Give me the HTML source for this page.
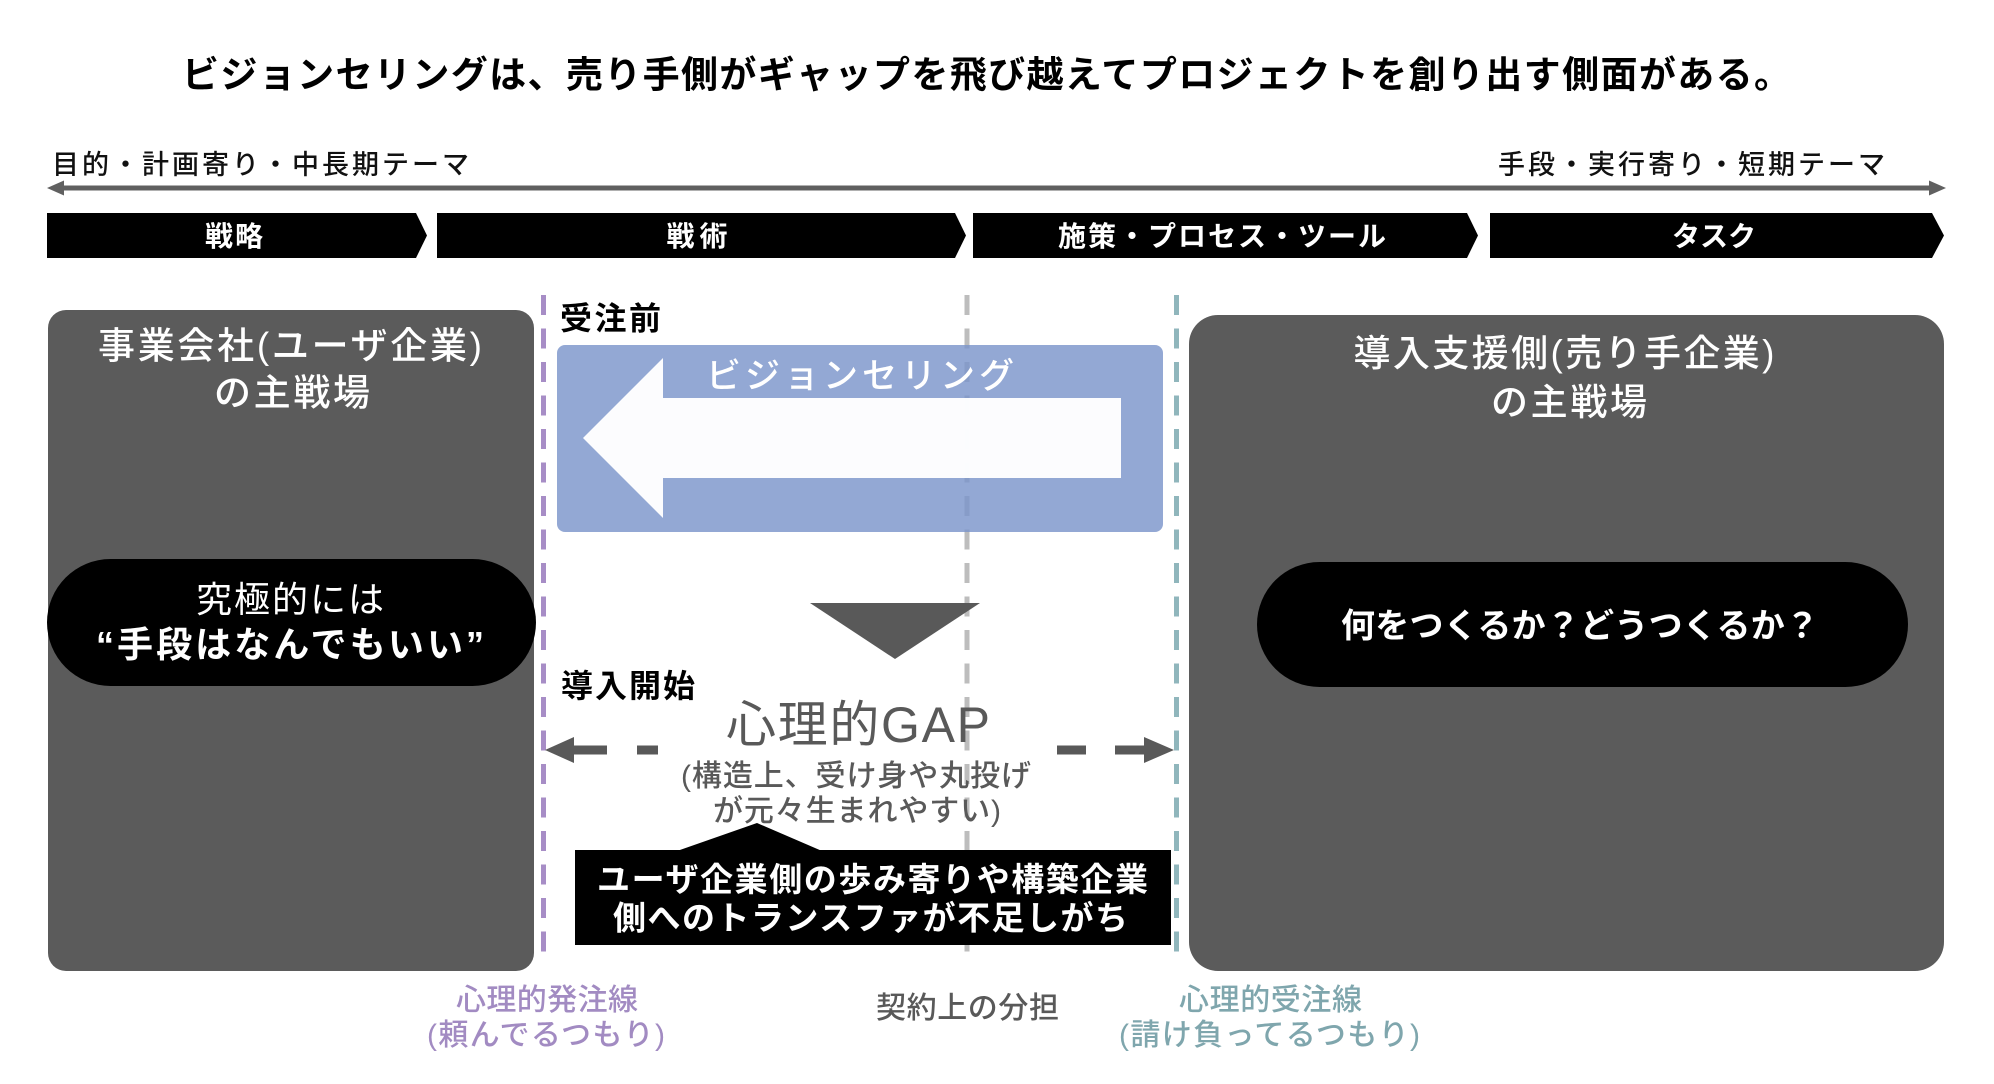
<!DOCTYPE html>
<html lang="ja">
<head>
<meta charset="utf-8">
<style>
  html,body{margin:0;padding:0;background:#fff;}
  svg{display:block;}
  text{font-family:"Liberation Sans","Noto Sans CJK JP",sans-serif;}
</style>
</head>
<body>
<svg width="1994" height="1084" viewBox="0 0 1994 1084" xmlns="http://www.w3.org/2000/svg">
  <rect x="0" y="0" width="1994" height="1084" fill="#ffffff"/>

  <!-- Title -->
  <text x="182" y="87.5" font-size="37" font-weight="700" fill="#000" textLength="1609" lengthAdjust="spacing">ビジョンセリングは、売り手側がギャップを飛び越えてプロジェクトを創り出す側面がある。</text>

  <!-- Axis labels -->
  <text x="52" y="174" font-size="27" font-weight="500" fill="#111" textLength="417" lengthAdjust="spacing">目的・計画寄り・中長期テーマ</text>
  <text x="1498" y="174" font-size="27" font-weight="500" fill="#111" textLength="387" lengthAdjust="spacing">手段・実行寄り・短期テーマ</text>

  <!-- Axis arrow -->
  <line x1="60" y1="188" x2="1933" y2="188" stroke="#606060" stroke-width="5"/>
  <polygon points="47,188 64,180.5 64,195.5" fill="#606060"/>
  <polygon points="1946,188 1929,180.5 1929,195.5" fill="#606060"/>

  <!-- Chevron bars -->
  <polygon points="47,213 416,213 427,235.5 416,258 47,258" fill="#000"/>
  <polygon points="437,213 955,213 966,235.5 955,258 437,258" fill="#000"/>
  <polygon points="973,213 1467,213 1478,235.5 1467,258 973,258" fill="#000"/>
  <polygon points="1490,213 1932,213 1944,235.5 1932,258 1490,258" fill="#000"/>
  <text x="234" y="246" font-size="28" font-weight="700" fill="#fff" text-anchor="middle" textLength="58" lengthAdjust="spacing">戦略</text>
  <text x="697" y="246" font-size="28" font-weight="700" fill="#fff" text-anchor="middle" textLength="61" lengthAdjust="spacing">戦術</text>
  <text x="1222" y="246" font-size="28" font-weight="700" fill="#fff" text-anchor="middle" textLength="328" lengthAdjust="spacing">施策・プロセス・ツール</text>
  <text x="1714" y="246" font-size="28" font-weight="700" fill="#fff" text-anchor="middle" textLength="84" lengthAdjust="spacing">タスク</text>

  <!-- Left dark box -->
  <rect x="48" y="310" width="486" height="661" rx="18" ry="18" fill="#5b5b5b"/>
  <text x="290" y="358.5" font-size="37" font-weight="500" fill="#fff" text-anchor="middle" textLength="384" lengthAdjust="spacing">事業会社(ユーザ企業)</text>
  <text x="292" y="405.5" font-size="37" font-weight="500" fill="#fff" text-anchor="middle" textLength="156" lengthAdjust="spacing">の主戦場</text>
  <rect x="47" y="559" width="489" height="127" rx="63.5" ry="63.5" fill="#000"/>
  <text x="290" y="612" font-size="36" font-weight="400" fill="#fff" text-anchor="middle" textLength="188" lengthAdjust="spacing">究極的には</text>
  <text x="290" y="657" font-size="36" font-weight="700" fill="#fff" text-anchor="middle" textLength="388" lengthAdjust="spacing">“手段はなんでもいい”</text>

  <!-- Right dark box -->
  <rect x="1189" y="315" width="755" height="656" rx="29" ry="29" fill="#5b5b5b"/>
  <text x="1564" y="366" font-size="37" font-weight="500" fill="#fff" text-anchor="middle" textLength="421" lengthAdjust="spacing">導入支援側(売り手企業)</text>
  <text x="1569" y="415" font-size="37" font-weight="500" fill="#fff" text-anchor="middle" textLength="156" lengthAdjust="spacing">の主戦場</text>
  <rect x="1257" y="562" width="651" height="125" rx="62.5" ry="62.5" fill="#000"/>
  <text x="1580" y="637.5" font-size="34" font-weight="700" fill="#fff" text-anchor="middle" textLength="478" lengthAdjust="spacing">何をつくるか？どうつくるか？</text>

  <!-- Contract dashed line (gray, behind) -->
  <line x1="967" y1="295" x2="967" y2="964" stroke="#bdbdbd" stroke-width="5" stroke-dasharray="20 13.5"/>

  <!-- Blue box with arrow -->
  <rect x="557" y="345" width="606" height="187" rx="8" ry="8" fill="#7b95cb" fill-opacity="0.82"/>
  <polygon points="583,438 663,358 663,398 1121,398 1121,478 663,478 663,518" fill="#ffffff" fill-opacity="0.97"/>
  <text x="860" y="388" font-size="35" font-weight="500" fill="#fff" text-anchor="middle" textLength="308" lengthAdjust="spacing">ビジョンセリング</text>

  <!-- Psychological lines -->
  <line x1="543.5" y1="295" x2="543.5" y2="964" stroke="#a78dc6" stroke-width="5" stroke-dasharray="20 13.5"/>
  <line x1="1176.5" y1="295" x2="1176.5" y2="964" stroke="#90b6bc" stroke-width="5" stroke-dasharray="20 13.5"/>

  <!-- Labels 受注前 / 導入開始 -->
  <text x="560" y="329.5" font-size="32" font-weight="700" fill="#000" textLength="101" lengthAdjust="spacing">受注前</text>
  <text x="561" y="697" font-size="32" font-weight="700" fill="#000" textLength="134" lengthAdjust="spacing">導入開始</text>

  <!-- Down triangle -->
  <polygon points="810,603 980,603 895,659" fill="#595959"/>

  <!-- GAP -->
  <text x="858" y="742" font-size="50" font-weight="400" fill="#595959" text-anchor="middle" textLength="264" lengthAdjust="spacing">心理的GAP</text>

  <!-- Dashed double arrow -->
  <g fill="#595959">
    <polygon points="545,750 574,737 574,763"/>
    <rect x="573" y="745.5" width="34" height="9"/>
    <rect x="637" y="745.5" width="21" height="9"/>
    <rect x="1057" y="745.5" width="29" height="9"/>
    <rect x="1115" y="745.5" width="30" height="9"/>
    <polygon points="1174,750 1144,737 1144,763"/>
  </g>

  <text x="856" y="786" font-size="30" font-weight="500" fill="#595959" text-anchor="middle" textLength="350" lengthAdjust="spacing">(構造上、受け身や丸投げ</text>
  <text x="857" y="821" font-size="30" font-weight="500" fill="#595959" text-anchor="middle" textLength="288" lengthAdjust="spacing">が元々生まれやすい)</text>

  <!-- Callout -->
  <polygon points="677,851 757,823 822,851" fill="#000"/>
  <rect x="575" y="850" width="596" height="95" fill="#000"/>
  <text x="872.5" y="891" font-size="33" font-weight="700" fill="#fff" text-anchor="middle" textLength="551" lengthAdjust="spacing">ユーザ企業側の歩み寄りや構築企業</text>
  <text x="870.5" y="929.5" font-size="33" font-weight="700" fill="#fff" text-anchor="middle" textLength="515" lengthAdjust="spacing">側へのトランスファが不足しがち</text>

  <!-- Bottom labels -->
  <text x="547" y="1010" font-size="30" font-weight="500" fill="#a28bc2" text-anchor="middle" textLength="182" lengthAdjust="spacing">心理的発注線</text>
  <text x="546" y="1045" font-size="30" font-weight="500" fill="#a28bc2" text-anchor="middle" textLength="238" lengthAdjust="spacing">(頼んでるつもり)</text>
  <text x="967.5" y="1018" font-size="30" font-weight="500" fill="#595959" text-anchor="middle" textLength="183" lengthAdjust="spacing">契約上の分担</text>
  <text x="1270.5" y="1010" font-size="30" font-weight="500" fill="#7fa6ad" text-anchor="middle" textLength="183" lengthAdjust="spacing">心理的受注線</text>
  <text x="1269.5" y="1045" font-size="30" font-weight="500" fill="#7fa6ad" text-anchor="middle" textLength="301" lengthAdjust="spacing">(請け負ってるつもり)</text>
</svg>
</body>
</html>
